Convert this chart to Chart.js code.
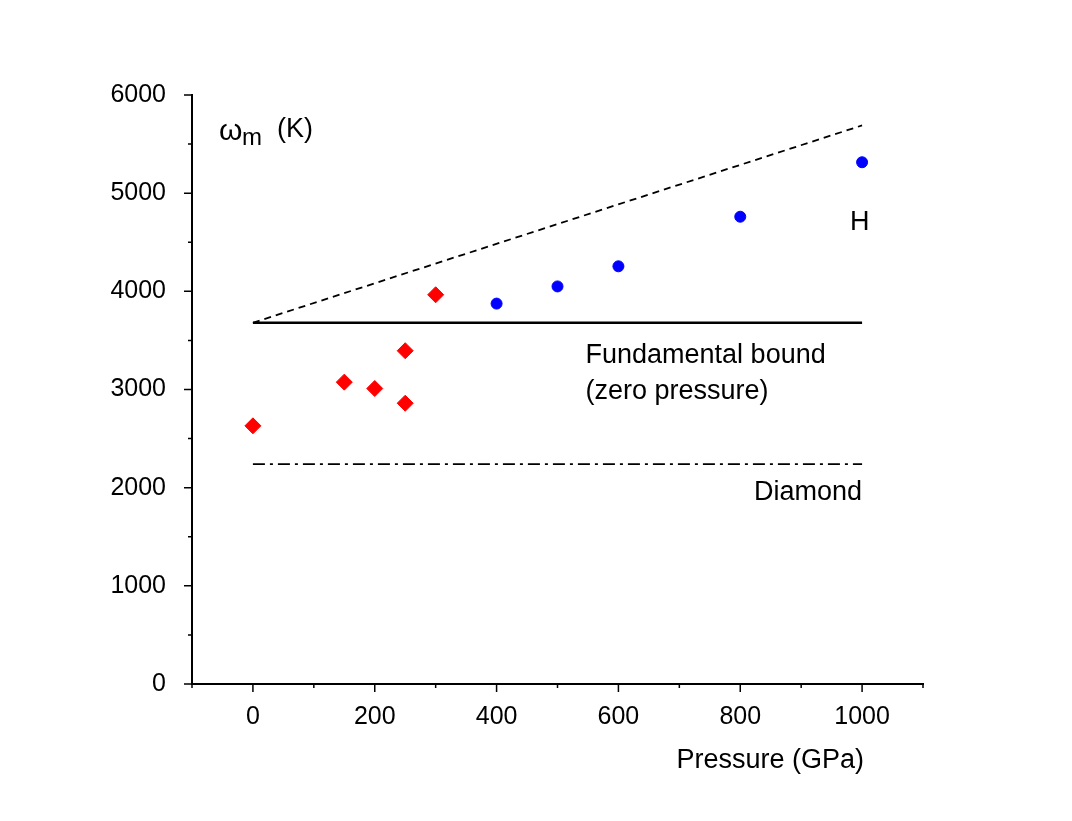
<!DOCTYPE html><html><head><script src="https://cdn.jsdelivr.net/npm/chart.js@4"></script>
<style>body{margin:0;background:#fff}#w{width:1072px;height:821px}</style></head><body><div id="w"><canvas id="c"></canvas></div>
<script>
const redX=[0,150,200,250,250,300];
const redY=[2630,3075,3010,2860,3395,3965];
const blueX=[400,500,600,800,1000];
const blueY=[3875,4050,4255,4760,5315];
const dashedX=[0,1000], dashedY=[3680,5690];
const boundX=[0,1000], boundY=[3680,3680];
const diamondX=[0,1000], diamondY=[2240,2240];
const xTicks=[0,200,400,600,800,1000];
const yTicks=[0,1000,2000,3000,4000,5000,6000];
const pts=(xs,ys)=>xs.map((x,i)=>({x,y:ys[i]}));
const F='"Liberation Sans", Arial, sans-serif';
const deco={id:'deco',afterDraw(ch){
 const c=ch.ctx,x=ch.scales.x,y=ch.scales.y,a=ch.chartArea;
 c.save();c.strokeStyle='#000';c.lineWidth=1.5;c.beginPath();
 for(let v=-100;v<=1100;v+=100){const p=x.getPixelForValue(v);const L=v%200===0?8:4;c.moveTo(p,a.bottom);c.lineTo(p,a.bottom+L);}
 for(let v=0;v<=6000;v+=500){const p=y.getPixelForValue(v);const L=v%1000===0?8:4;c.moveTo(a.left,p);c.lineTo(a.left-L,p);}
 c.stroke();
 c.fillStyle='#000';c.font='27px '+F;c.textBaseline='alphabetic';
 const t=(s,vx,vy,al)=>{c.textAlign=al||'left';c.fillText(s,x.getPixelForValue(vx),y.getPixelForValue(vy));};
 t('H',980,4620);t('Fundamental bound',546,3265);t('(zero pressure)',546,2905);t('Diamond',1000,1870,'right');
 c.textAlign='right';c.fillText('Pressure (GPa)',864,768);
 c.textAlign='left';c.font='30px '+F;c.fillText('ω',219,140);c.font='24px '+F;c.fillText('m',242,145);c.font='27px '+F;c.fillText('(K)',277,137);
 c.restore();}};
new Chart(document.getElementById('c'),{type:'scatter',
 data:{datasets:[
  {data:pts(redX,redY),pointStyle:'rectRot',pointRadius:8,backgroundColor:'#f00',borderColor:'#f00'},
  {data:pts(blueX,blueY),pointStyle:'circle',pointRadius:5.5,backgroundColor:'#00f',borderColor:'#00f'},
  {type:'line',data:pts(dashedX,dashedY),borderColor:'#000',borderWidth:1.8,borderDash:[7,5],pointRadius:0},
  {type:'line',data:pts(boundX,boundY),borderColor:'#000',borderWidth:2.5,pointRadius:0},
  {type:'line',data:pts(diamondX,diamondY),borderColor:'#000',borderWidth:1.8,borderDash:[12,5,3,5],pointRadius:0}]},
 options:{responsive:true,maintainAspectRatio:false,animation:false,
  layout:{padding:{top:95,right:149,left:0,bottom:0}},
  plugins:{legend:{display:false},tooltip:{enabled:false}},
  scales:{
   x:{type:'linear',min:-100,max:1100,afterBuildTicks:s=>{s.ticks=xTicks.map(v=>({value:v}))},afterFit:s=>{s.height=137},
      grid:{display:false},border:{display:true,color:'#000',width:2},ticks:{color:'#000',padding:10,font:{size:25,family:F},maxRotation:0,callback:v=>String(v)}},
   y:{min:0,max:6000,afterBuildTicks:s=>{s.ticks=yTicks.map(v=>({value:v}))},afterFit:s=>{s.width=192},
      grid:{display:false},border:{display:true,color:'#000',width:2},ticks:{color:'#000',padding:18,font:{size:25,family:F},callback:v=>String(v)}}}},
 plugins:[deco]});
</script></body></html>
